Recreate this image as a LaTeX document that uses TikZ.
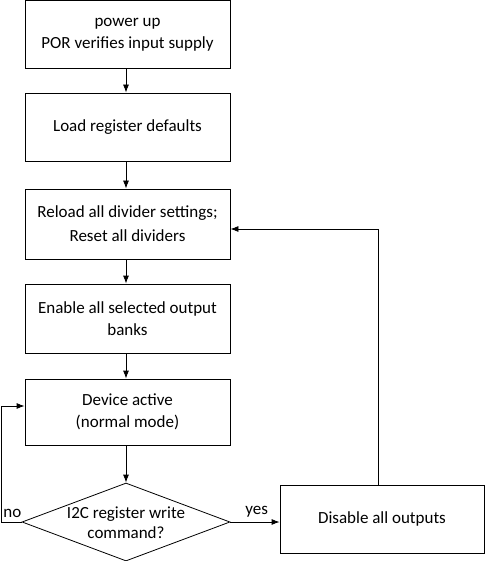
\documentclass[tikz,border=0pt]{standalone}
\usepackage{fontspec}
\setmainfont{Carlito}
\usetikzlibrary{shapes.geometric,arrows.meta,calc}
\begin{document}
\begin{tikzpicture}[x=1pt,y=-1pt,
  line width=0.8pt,
  every node/.style={font=\fontsize{17}{22}\selectfont},
  stepbox/.style={draw, rectangle, inner sep=0pt, minimum width=205pt, align=center},
  dia/.style={draw, diamond, inner sep=0pt, minimum width=208pt, minimum height=78pt},
  conn/.style={-{Latex[length=8pt,width=6pt]}},
  lbl/.style={inner sep=0pt}]
\useasboundingbox (0,0) rectangle (485,561);
\node[stepbox, minimum height=67.5pt] (b1) at (127.5,34.3) {power up\\POR verifies input supply};
\node[stepbox, minimum height=68pt] (b2) at (127.5,127) {Load register defaults};
\node[stepbox, minimum height=70pt, font=\fontsize{17}{24}\selectfont] (b3) at (127.5,224) {Reload all divider settings;\\Reset all dividers};
\node[stepbox, minimum height=69pt] (b4) at (127.5,318.5) {Enable all selected output\\banks};
\node[stepbox, minimum height=66pt] (b5) at (127.5,412) {Device active\\(normal mode)};
\node[dia] (d) at (126,522) {};
\node[align=center, inner sep=0pt, font=\fontsize{17}{20}\selectfont] (dt) at (126,523) {I2C register write\\command?};
\node[stepbox, minimum width=204pt, minimum height=68pt] (dis) at (382,519) {Disable all outputs};
\coordinate (nl) at (1,522);
\coordinate (rt) at (378,485);
\draw[conn] (b1.south -| d.north) -- (b2.north -| d.north);
\draw[conn] (b2.south -| d.north) -- (b3.north -| d.north);
\draw[conn] (b3.south -| d.north) -- (b4.north -| d.north);
\draw[conn] (b4.south -| d.north) -- (b5.north -| d.north);
\draw[conn] (b5.south -| d.north) -- (d.north);
\draw[conn] (d.east) -- (d.east -| dis.west);
\draw[conn] (d.west) -- (nl) |- ($(b5.west)+(0,-6)$);
\draw[conn] (rt) |- ($(b3.east)+(0,5)$);
\node[lbl, anchor=south west] (no) at (3,518) {no};
\node[lbl, anchor=south west] (yes) at (245,518) {yes};
\end{tikzpicture}
\end{document}
